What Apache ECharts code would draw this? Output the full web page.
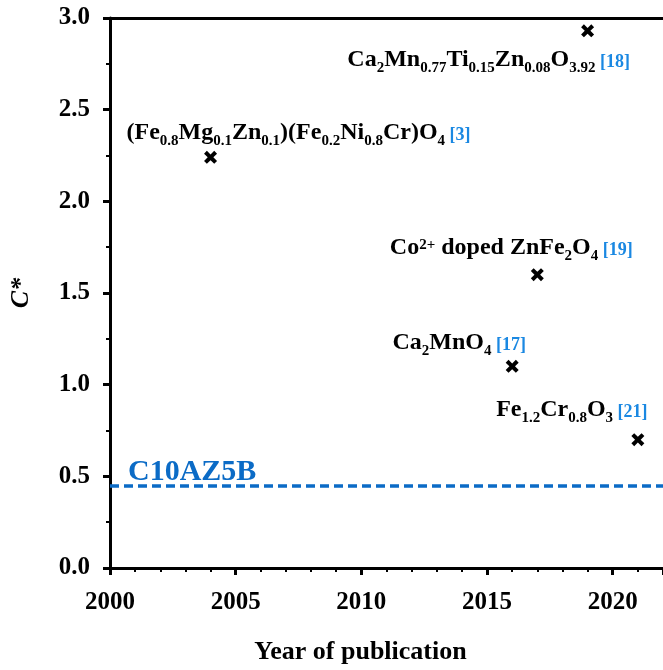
<!DOCTYPE html>
<html>
<head>
<meta charset="utf-8">
<script src="https://cdn.jsdelivr.net/npm/echarts@6/dist/echarts.min.js"></script>
<style>html,body{margin:0;padding:0;background:#fff}#c{width:663px;height:670px}</style>
</head>
<body>
<div id="c"></div>
<script>
// ---- data ----
var years = [2004, 2016, 2017, 2019, 2021];
var cStar = [2.24, 1.10, 1.60, 2.93, 0.70];
var formulas = [
  '{m|(Fe}{s|0.8}{m|Mg}{s|0.1}{m|Zn}{s|0.1}{m|)(Fe}{s|0.2}{m|Ni}{s|0.8}{m|Cr)O}{s|4}',
  '{m|Ca}{s|2}{m|MnO}{s|4}',
  '{m|Co}{p|2+}{m| doped ZnFe}{s|2}{m|O}{s|4}',
  '{m|Ca}{s|2}{m|Mn}{s|0.77}{m|Ti}{s|0.15}{m|Zn}{s|0.08}{m|O}{s|3.92}',
  '{m|Fe}{s|1.2}{m|Cr}{s|0.8}{m|O}{s|3}'
];
var refs = ['[3]', '[17]', '[19]', '[18]', '[21]'];
var refLineValue = 0.445;
var refLineName = 'C10AZ5B';
var xTicks = [2000, 2005, 2010, 2015, 2020];
var yTicks = [0.0, 0.5, 1.0, 1.5, 2.0, 2.5, 3.0];

// ---- layout (not data) ----
var labelOffsets = [[88, -23], [-53, -22], [-26, -25], [-99, 31], [-66, -28]];

var FONT = '"Liberation Serif", "Times New Roman", serif';
var BLUE = '#0b6bc6';
var REFBLUE = '#1a88e2';
var base = {fontFamily: FONT, fontWeight: 'bold', textBorderWidth: 0, textBorderColor: 'transparent', textShadowBlur: 0};
function st(o) { var r = {}; for (var k in base) r[k] = base[k]; for (var k2 in o) r[k2] = o[k2]; return r; }
var rich = {
  m: st({fontSize: 24, color: '#000', lineHeight: 28, verticalAlign: 'bottom', padding: [0, 0, 4, 0]}),
  s: st({fontSize: 15, color: '#000', lineHeight: 15, verticalAlign: 'bottom'}),
  p: st({fontSize: 15, color: '#000', lineHeight: 15, verticalAlign: 'top', padding: [2, 0, 0, 0]}),
  r: st({fontSize: 18, color: REFBLUE, lineHeight: 24, verticalAlign: 'bottom', padding: [0, 0, 4, 0]})
};

var crossPath = 'path://M0,2.6 L2.6,0 L6,3.4 L9.4,0 L12,2.6 L8.6,6 L12,9.4 L9.4,12 L6,8.6 L2.6,12 L0,9.4 L3.4,6 Z';

var points = years.map(function (y, i) {
  return {
    value: [y, cStar[i]],
    label: {
      show: true,
      position: 'inside',
      offset: labelOffsets[i],
      align: 'center',
      verticalAlign: 'middle',
      color: '#000',
      textBorderWidth: 0,
      formatter: formulas[i] + '{r| ' + refs[i] + '}',
      rich: rich
    }
  };
});

var chart = echarts.init(document.getElementById('c'), null, {renderer: 'canvas'});
chart.setOption({
  animation: false,
  backgroundColor: '#fff',
  grid: {left: 107, top: 18, width: 561, bottom: 94, containLabel: false},
  xAxis: [{
    type: 'value', min: 2000, max: 2022, interval: 5,
    name: 'Year of publication', nameLocation: 'middle', nameGap: 71,
    nameTextStyle: {fontFamily: FONT, fontWeight: 'bold', fontSize: 26, color: '#000', padding: [0, 52, 0, 0]},
    axisLine: {show: true, onZero: false, lineStyle: {color: '#000', width: 3}},
    axisTick: {show: true, inside: false, length: 7, lineStyle: {color: '#000', width: 3}},
    minorTick: {show: true, splitNumber: 5, length: 4, lineStyle: {color: '#000', width: 2}},
    splitLine: {show: false},
    axisLabel: {
      margin: 22, fontFamily: FONT, fontWeight: 'bold', fontSize: 25, color: '#000',
      showMaxLabel: false,
      formatter: function (v) { return xTicks.indexOf(v) >= 0 ? String(v) : ''; }
    }
  }, {
    type: 'value', position: 'top', min: 2000, max: 2022,
    axisLine: {show: true, onZero: false, lineStyle: {color: '#000', width: 3}},
    axisTick: {show: false}, axisLabel: {show: false}, splitLine: {show: false}
  }],
  yAxis: {
    type: 'value', min: 0, max: 3, interval: 0.5,
    name: 'C*', nameLocation: 'middle', nameGap: 76,
    nameTextStyle: {fontFamily: FONT, fontWeight: 'bold', fontStyle: 'italic', fontSize: 26, color: '#000'},
    axisLine: {show: true, lineStyle: {color: '#000', width: 3}},
    axisTick: {show: true, inside: false, length: 7, lineStyle: {color: '#000', width: 3}},
    minorTick: {show: true, splitNumber: 2, length: 4, lineStyle: {color: '#000', width: 2}},
    splitLine: {show: false},
    axisLabel: {
      margin: 20, fontFamily: FONT, fontWeight: 'bold', fontSize: 25, color: '#000',
      formatter: function (v) {
        for (var k = 0; k < yTicks.length; k++) { if (Math.abs(yTicks[k] - v) < 1e-9) return yTicks[k].toFixed(1); }
        return '';
      }
    }
  },
  series: [{
    type: 'scatter',
    symbol: crossPath,
    symbolSize: 13,
    itemStyle: {color: '#000', opacity: 1},
    data: points,
    markLine: {
      silent: true,
      symbol: ['none', 'none'],
      lineStyle: {color: BLUE, width: 3.5, type: [9, 5], opacity: 1},
      label: {
        show: true, position: 'insideStartTop', distance: [18, -2],
        formatter: refLineName,
        fontFamily: FONT, fontWeight: 'bold', fontSize: 30, color: BLUE, textBorderWidth: 0
      },
      data: [{yAxis: refLineValue}]
    }
  }]
});
</script>
</body>
</html>
